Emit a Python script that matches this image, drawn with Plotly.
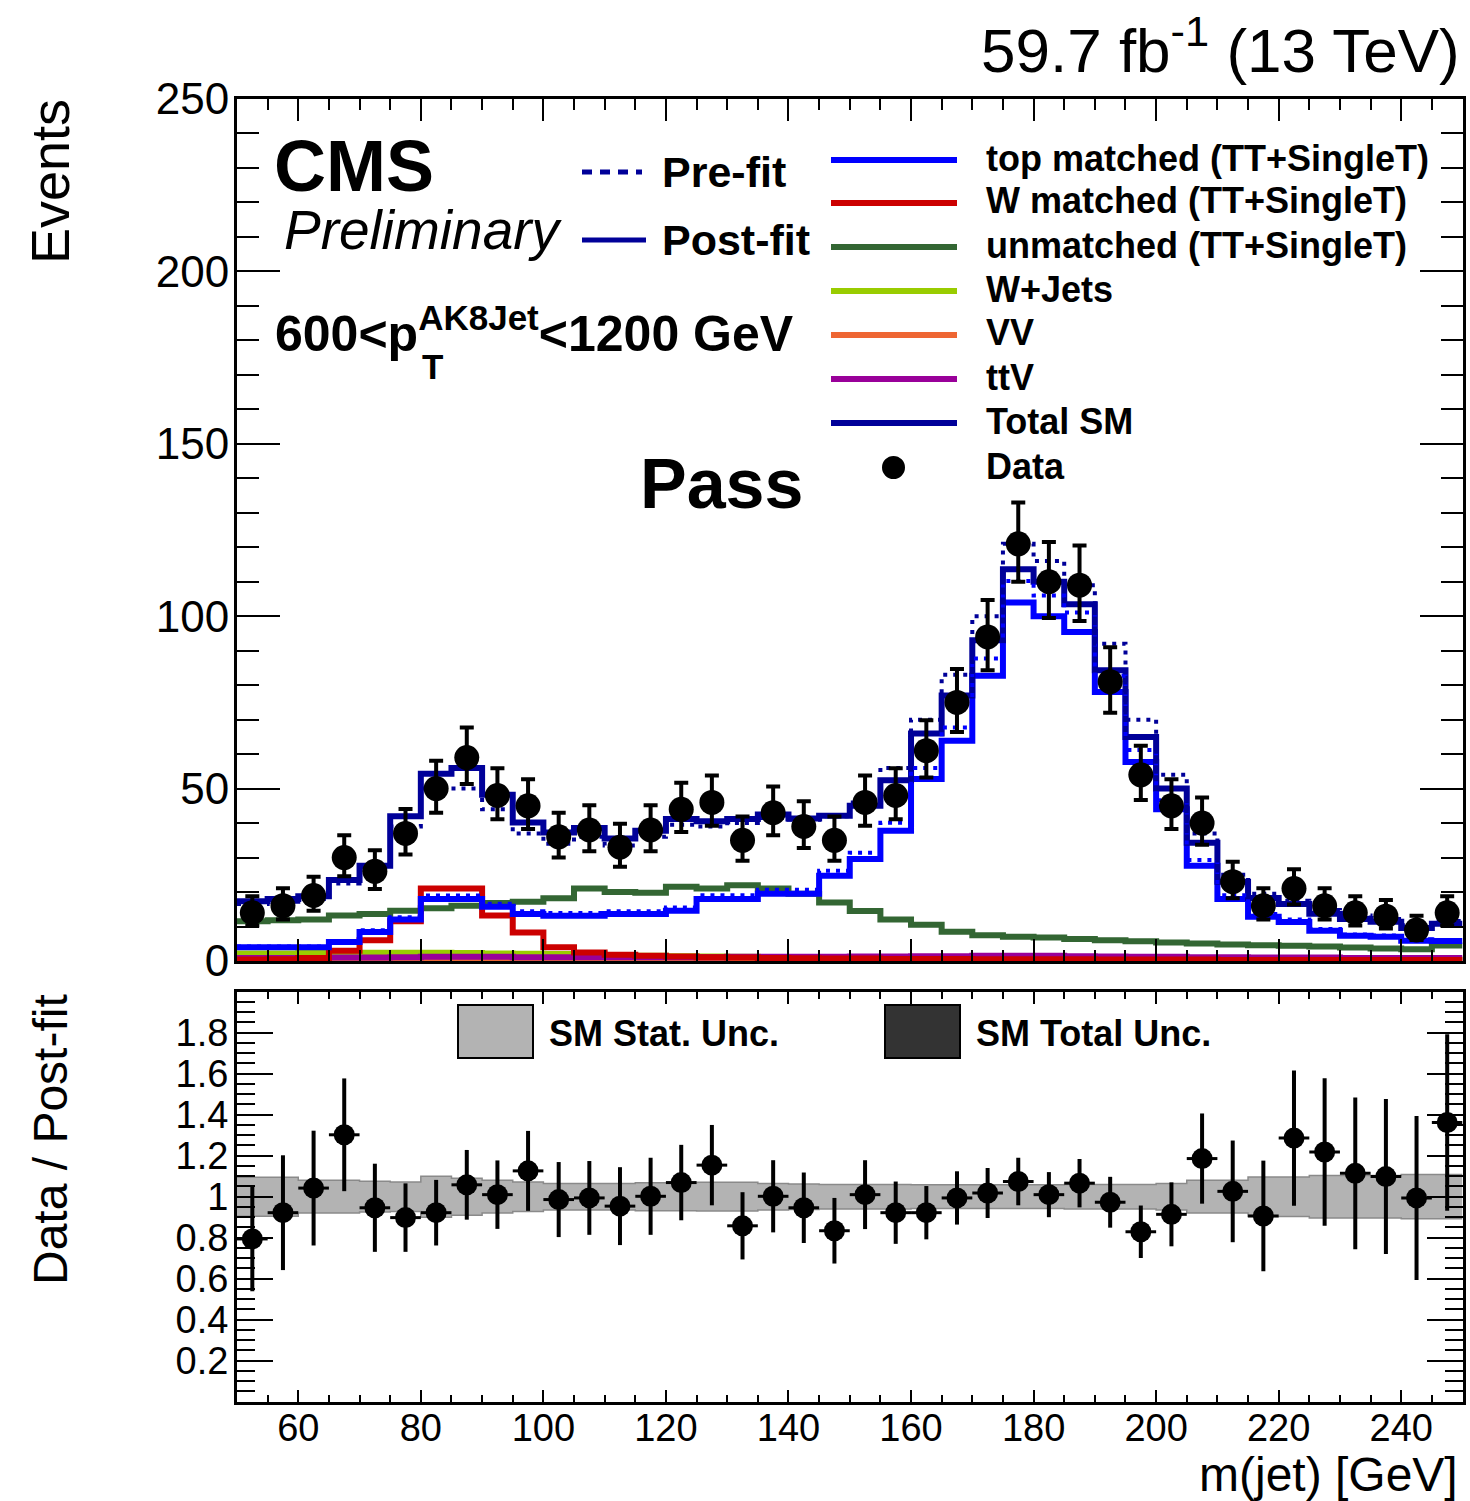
import plotly.graph_objects as go

# ---------------- data ----------------
edges = list(range(50, 255, 5))          # 5 GeV bins, 50..250
centers = [e + 2.5 for e in edges[:-1]]

data_counts = [14, 16, 19, 30, 26, 37, 50, 59, 48, 45, 36, 38, 33, 38, 44, 46, 35, 43, 39, 35,
               46, 48, 61, 75, 94, 121, 110, 109, 81, 54, 45, 40, 23, 16, 21, 16, 14, 13, 9, 14]
data_err_lo = [3.7, 4.0, 4.4, 5.4, 5.1, 6.1, 7.0, 7.7, 6.9, 6.7, 6.0, 6.2, 5.7, 6.2, 6.6, 6.8, 5.9, 6.5, 6.2, 5.9,
               6.8, 6.9, 7.8, 8.6, 9.7, 11.0, 10.5, 10.4, 9.0, 7.3, 6.7, 6.3, 4.8, 4.0, 4.6, 4.0, 3.7, 3.6, 2.9, 3.7]
data_err_hi = [4.8, 5.1, 5.4, 6.5, 6.1, 7.1, 8.1, 8.7, 7.9, 7.7, 7.0, 7.2, 6.8, 7.2, 7.7, 7.8, 6.9, 7.6, 7.3, 6.9,
               7.8, 7.9, 8.8, 9.7, 10.7, 12.0, 11.5, 11.5, 10.0, 8.4, 7.7, 7.4, 5.8, 5.1, 5.6, 5.1, 4.8, 4.7, 4.1, 4.8]

total_post = [17.3, 18.0, 18.8, 23.5, 27.6, 42.0, 54.3, 56.0, 48.2, 40.2, 37.3, 38.6, 35.5, 37.8, 41.2, 40.5, 41.2, 42.5, 41.3, 42.1,
              45.0, 52.4, 66.0, 77.0, 93.0, 113.6, 110.0, 103.5, 84.3, 65.0, 50.0, 34.3, 23.0, 18.3, 16.5, 13.7, 12.2, 11.4, 9.6, 10.8]
total_pre = [16.5, 17.2, 18.0, 22.5, 26.5, 39.0, 50.0, 50.0, 44.0, 37.0, 34.0, 36.0, 33.5, 36.0, 39.5, 39.0, 40.0, 41.5, 41.0, 42.0,
             46.0, 56.0, 70.0, 83.0, 100.0, 121.0, 116.0, 109.0, 92.0, 70.0, 54.0, 37.0, 25.0, 19.5, 17.5, 14.8, 13.2, 12.2, 10.4, 11.6]
top_post = [4.0, 4.0, 4.0, 5.5, 8.4, 12.0, 18.0, 18.0, 15.7, 13.6, 13.1, 13.1, 13.6, 13.6, 14.6, 18.0, 18.0, 19.5, 19.5, 24.7,
            29.6, 37.8, 52.8, 63.9, 82.7, 104.0, 100.0, 95.4, 78.0, 57.7, 44.0, 27.6, 18.0, 12.8, 11.3, 8.8, 7.3, 7.0, 5.9, 5.8]
top_pre = [4.2, 4.2, 4.2, 5.8, 8.9, 12.7, 19.0, 19.0, 16.6, 14.4, 13.9, 13.9, 14.4, 14.4, 15.5, 19.1, 19.1, 20.7, 20.7, 26.2,
           31.4, 40.1, 56.0, 67.7, 87.7, 110.2, 106.0, 101.1, 82.7, 61.2, 46.6, 29.3, 19.1, 13.6, 12.0, 9.3, 7.7, 7.4, 6.3, 6.1]
w_matched = [0.4, 0.5, 0.9, 3.0, 6.0, 11.5, 21.0, 21.0, 13.2, 8.3, 4.0, 2.5, 1.8, 1.5, 1.3, 1.1, 1.0, 0.9, 0.8, 0.7,
             0.7, 0.6, 0.6, 0.6, 0.5, 0.5, 0.5, 0.5, 0.4, 0.4, 0.4, 0.4, 0.3, 0.3, 0.3, 0.3, 0.3, 0.3, 0.3, 0.3]
unmatched = [11.5, 11.8, 12.0, 13.2, 13.6, 14.6, 15.3, 16.0, 16.8, 17.2, 18.2, 21.0, 20.0, 19.8, 21.5, 21.0, 22.0, 21.0, 19.5, 17.0,
             14.5, 12.0, 10.5, 8.5, 7.5, 7.0, 6.8, 6.4, 6.0, 5.7, 5.4, 5.1, 4.8, 4.6, 4.4, 4.2, 3.9, 3.6, 3.4, 4.5]
wjets = [2.2, 2.2, 2.3, 2.3, 2.4, 2.4, 2.4, 2.3, 2.2, 2.1, 2.0, 1.8, 1.6, 1.5, 1.4, 1.3, 1.2, 1.1, 1.0, 1.0,
         0.9, 0.9, 0.9, 0.8, 0.8, 0.8, 0.8, 0.7, 0.7, 0.7, 0.6, 0.6, 0.6, 0.6, 0.5, 0.5, 0.5, 0.5, 0.5, 0.5]
vv = [0.2, 0.2, 0.2, 0.2, 0.3, 0.3, 0.3, 0.3, 0.3, 0.3, 0.2, 0.2, 0.2, 0.2, 0.2, 0.2, 0.2, 0.2, 0.3, 0.3,
      0.3, 0.3, 0.4, 0.4, 0.5, 0.6, 0.6, 0.6, 0.6, 0.5, 0.5, 0.4, 0.3, 0.3, 0.3, 0.2, 0.2, 0.2, 0.2, 0.2]
ttv = [0.9, 0.9, 0.9, 1.0, 1.0, 1.1, 1.2, 1.2, 1.2, 1.1, 1.1, 1.1, 1.1, 1.1, 1.1, 1.1, 1.2, 1.2, 1.2, 1.2,
       1.3, 1.3, 1.4, 1.4, 1.5, 1.5, 1.5, 1.4, 1.3, 1.2, 1.2, 1.1, 1.1, 1.0, 1.0, 1.0, 0.9, 0.9, 0.9, 0.9]

ratio = [0.794, 0.922, 1.042, 1.302, 0.946, 0.898, 0.922, 1.058, 1.010, 1.126, 0.986, 0.994, 0.954, 1.002, 1.069, 1.154,
         0.858, 1.002, 0.946, 0.834, 1.010, 0.922, 0.922, 0.994, 1.018, 1.074, 1.010, 1.066, 0.973, 0.829, 0.914, 1.186,
         1.026, 0.906, 1.286, 1.218, 1.114, 1.098, 0.994, 1.362]
ratio_err = [0.255, 0.28, 0.28, 0.275, 0.215, 0.167, 0.16, 0.17, 0.167, 0.195, 0.183, 0.18, 0.19, 0.188, 0.184, 0.196,
             0.164, 0.176, 0.172, 0.16, 0.168, 0.152, 0.13, 0.13, 0.122, 0.116, 0.11, 0.118, 0.124, 0.128, 0.156, 0.22,
             0.248, 0.27, 0.33, 0.36, 0.37, 0.378, 0.40, 0.43]
stat_unc = [0.095, 0.095, 0.08, 0.08, 0.075, 0.072, 0.10, 0.09, 0.08, 0.072, 0.065, 0.065, 0.065, 0.068, 0.068, 0.07,
            0.07, 0.065, 0.062, 0.06, 0.06, 0.06, 0.058, 0.058, 0.058, 0.058, 0.058, 0.06, 0.06, 0.06, 0.065, 0.08,
            0.08, 0.096, 0.096, 0.104, 0.104, 0.104, 0.108, 0.108]

y_ticks_ratio = [0.2, 0.4, 0.6, 0.8, 1.0, 1.2, 1.4, 1.6, 1.8]
y_ticktext_ratio = ["0.2", "0.4", "0.6", "0.8", "1", "1.2", "1.4", "1.6", "1.8"]

# ---------------- styling ----------------
W, H = 1470, 1501
FONT = "Liberation Sans, Arial, Helvetica, sans-serif"
C_NAVY = "#000099"
C_BLUE = "#0000ff"
C_RED = "#cc0000"
C_GREEN = "#336633"
C_YG = "#99cc00"
C_OR = "#ee6633"
C_PUR = "#990099"


def X(px):
    return px / W


def Y(py):
    return 1 - py / H


def step(vals):
    return vals + [vals[-1]]


fig = go.Figure()


def hist(vals, color, width=6, dash=None, axis=("x", "y")):
    fig.add_trace(go.Scatter(
        x=edges, y=step(vals), mode="lines",
        line=dict(shape="hv", color=color, width=width, dash=dash),
        xaxis=axis[0], yaxis=axis[1], showlegend=False, hoverinfo="skip"))


# top panel histograms
hist(vv, C_OR)
hist(wjets, C_YG)
hist(ttv, C_PUR)
hist(unmatched, C_GREEN)
hist(w_matched, C_RED)
hist(top_post, C_BLUE)
hist(total_post, C_NAVY)
hist(top_pre, C_BLUE, width=4, dash="4px,6px")
hist(total_pre, C_NAVY, width=4, dash="4px,6px")

fig.add_trace(go.Scatter(
    x=centers, y=data_counts, mode="markers",
    marker=dict(size=25, color="black"),
    error_y=dict(type="data", symmetric=False, array=data_err_hi, arrayminus=data_err_lo,
                 thickness=4, width=7, color="black"),
    xaxis="x", yaxis="y", showlegend=False))

# bottom panel band
band_lo = [1 - u for u in stat_unc]
band_hi = [1 + u for u in stat_unc]
fig.add_trace(go.Scatter(x=edges, y=step(band_lo), mode="lines",
                         line=dict(shape="hv", color="#8a8a8a", width=1.5),
                         xaxis="x2", yaxis="y2", showlegend=False, hoverinfo="skip"))
fig.add_trace(go.Scatter(x=edges, y=step(band_hi), mode="lines",
                         line=dict(shape="hv", color="#8a8a8a", width=1.5),
                         fill="tonexty", fillcolor="#b3b3b3",
                         xaxis="x2", yaxis="y2", showlegend=False, hoverinfo="skip"))

fig.add_trace(go.Scatter(
    x=centers, y=ratio, mode="markers",
    marker=dict(size=21, color="black"),
    error_y=dict(type="data", array=ratio_err, thickness=4, width=0, color="black"),
    error_x=dict(type="constant", value=2.5, thickness=3, width=0, color="black"),
    xaxis="x2", yaxis="y2", showlegend=False))

# ---------------- axes ----------------
xdom = [X(237), X(1462.5)]
axis_common = dict(showline=True, linewidth=3, linecolor="black", mirror="ticks",
                   ticks="inside", tickwidth=2, tickcolor="black",
                   showgrid=False, zeroline=False, automargin=False,
                   tickfont=dict(family=FONT, size=38, color="black"))

fig.update_layout(
    template="none",
    width=W, height=H,
    margin=dict(l=0, r=0, t=0, b=0, pad=0),
    paper_bgcolor="white", plot_bgcolor="white",
    xaxis=dict(domain=xdom, range=[50, 250], anchor="y", showticklabels=False,
               tick0=0, dtick=20, ticklen=22,
               minor=dict(ticks="inside", dtick=5, tick0=0, ticklen=11, tickwidth=2, tickcolor="black"),
               **axis_common),
    yaxis=dict(domain=[Y(961), Y(99)], range=[0, 250], anchor="x",
               tick0=0, dtick=50, ticklen=43, ticklabelstandoff=-4,
               minor=dict(ticks="inside", dtick=10, tick0=0, ticklen=22, tickwidth=2, tickcolor="black"),
               **{**axis_common, "tickfont": dict(family=FONT, size=44, color="black")}),
    xaxis2=dict(domain=xdom, range=[50, 250], anchor="y2",
                tick0=0, dtick=20, ticklen=12, ticklabelstandoff=-9,
                minor=dict(ticks="inside", dtick=5, tick0=0, ticklen=7, tickwidth=2, tickcolor="black"),
                **axis_common),
    yaxis2=dict(domain=[Y(1401.7), Y(991.7)], range=[0, 2], anchor="x2",
                tickmode="array", tickvals=y_ticks_ratio, ticktext=y_ticktext_ratio,
                ticklen=36, ticklabelstandoff=-2,
                minor=dict(ticks="inside", tickmode="linear", tick0=0, dtick=0.05, ticklen=18,
                           tickwidth=2, tickcolor="black"),
                **axis_common),
)

# ---------------- annotations / legend ----------------
ann = []


def text(px, py, s, size, xanchor="left", yanchor="middle", angle=0):
    ann.append(dict(x=X(px), y=Y(py), xref="paper", yref="paper", text=s, showarrow=False,
                    xanchor=xanchor, yanchor=yanchor, textangle=angle,
                    font=dict(family=FONT, size=size, color="black")))


text(1462, 46, "59.7 fb<sup>-1</sup> (13 TeV)", 62, xanchor="right")
text(50, 182, "Events", 54, xanchor="center", angle=-90)
text(50, 1140, "Data / Post-fit", 48, xanchor="center", angle=-90)
text(1460, 1474, "m(jet) [GeV]", 48, xanchor="right")
text(272, 166, "<b>CMS</b>", 72)
text(282, 230, "<i>Preliminary</i>", 55)
text(273, 330, "<b>600&lt;p<sup>AK8Jet</sup>&lt;1200 GeV</b>", 50)
text(420, 366, "<b>T</b>", 35)
text(638, 484, "<b>Pass</b>", 70)
text(660, 172, "<b>Pre-fit</b>", 43)
text(660, 240, "<b>Post-fit</b>", 43)

shapes = []
shapes.append(dict(type="line", xref="paper", yref="paper", x0=X(582), x1=X(642), y0=Y(172), y1=Y(172),
                   line=dict(color=C_NAVY, width=5, dash="10px,8px")))
shapes.append(dict(type="line", xref="paper", yref="paper", x0=X(582), x1=X(646), y0=Y(240), y1=Y(240),
                   line=dict(color=C_NAVY, width=5)))

legend_items = [
    ("top matched (TT+SingleT)", C_BLUE, 160),
    ("W matched (TT+SingleT)", C_RED, 203),
    ("unmatched (TT+SingleT)", C_GREEN, 247),
    ("W+Jets", C_YG, 291),
    ("VV", C_OR, 335),
    ("ttV", C_PUR, 379),
    ("Total SM", C_NAVY, 423),
]
for label, col, py in legend_items:
    shapes.append(dict(type="line", xref="paper", yref="paper", x0=X(831), x1=X(957), y0=Y(py), y1=Y(py),
                       line=dict(color=col, width=6)))
    text(984, py - 2, "<b>%s</b>" % label, 36)

shapes.append(dict(type="circle", xref="paper", yref="paper", x0=X(882), x1=X(905), y0=Y(479), y1=Y(456),
                   fillcolor="black", line=dict(color="black", width=0)))
text(984, 466, "<b>Data</b>", 36)

# bottom legend
shapes.append(dict(type="rect", xref="paper", yref="paper", x0=X(458), x1=X(533), y0=Y(1058), y1=Y(1005),
                   fillcolor="#b3b3b3", line=dict(color="black", width=2)))
shapes.append(dict(type="rect", xref="paper", yref="paper", x0=X(885), x1=X(960), y0=Y(1058), y1=Y(1005),
                   fillcolor="#333333", line=dict(color="black", width=2)))
text(547, 1033, "<b>SM Stat. Unc.</b>", 36)
text(974, 1033, "<b>SM Total Unc.</b>", 36)

fig.update_layout(annotations=ann, shapes=shapes)

fig.write_html("out.html")
